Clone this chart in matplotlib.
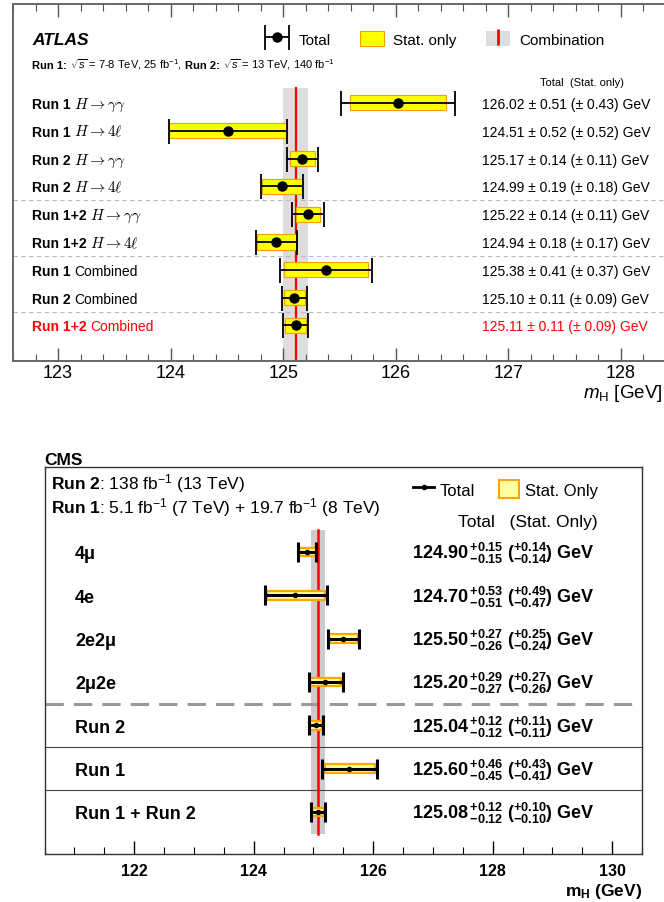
import numpy as np
import matplotlib
matplotlib.use('Agg')
import matplotlib.pyplot as plt
import matplotlib.transforms as mtransforms
from matplotlib.patches import Patch
from matplotlib.lines import Line2D
from matplotlib.legend_handler import HandlerTuple, HandlerErrorbar
from matplotlib.container import ErrorbarContainer
from matplotlib.ticker import MultipleLocator, FixedLocator

plt.rcParams['font.family'] = ['Liberation Sans', 'DejaVu Sans']
plt.rcParams['mathtext.fontset'] = 'custom'
plt.rcParams['mathtext.rm'] = 'Liberation Sans'
plt.rcParams['mathtext.it'] = 'Liberation Sans:italic'
plt.rcParams['mathtext.bf'] = 'Liberation Sans:bold'
plt.rcParams['mathtext.sf'] = 'Liberation Sans'

# ---------------- ATLAS data ----------------
atlas_runs = ['Run 1', 'Run 1', 'Run 2', 'Run 2', 'Run 1+2', 'Run 1+2',
              'Run 1', 'Run 2', 'Run 1+2']
atlas_channels = [r'$H \rightarrow \gamma\gamma$', r'$H \rightarrow 4\ell$',
                  r'$H \rightarrow \gamma\gamma$', r'$H \rightarrow 4\ell$',
                  r'$H \rightarrow \gamma\gamma$', r'$H \rightarrow 4\ell$',
                  'Combined', 'Combined', 'Combined']
atlas_mass = [126.02, 124.51, 125.17, 124.99, 125.22, 124.94, 125.38, 125.10, 125.11]
atlas_total = [0.51, 0.52, 0.14, 0.19, 0.14, 0.18, 0.41, 0.11, 0.11]
atlas_stat = [0.43, 0.52, 0.11, 0.18, 0.11, 0.17, 0.37, 0.09, 0.09]
atlas_comb_mass = 125.11
atlas_comb_err = 0.11
atlas_xticks = [123, 124, 125, 126, 127, 128]

# ---------------- CMS data ----------------
cms_labels = ['4\u03bc', '4e', '2e2\u03bc', '2\u03bc2e', 'Run 2', 'Run 1', 'Run 1 + Run 2']
cms_mass = [124.90, 124.70, 125.50, 125.20, 125.04, 125.60, 125.08]
cms_tot_up = [0.15, 0.53, 0.27, 0.29, 0.12, 0.46, 0.12]
cms_tot_dn = [0.15, 0.51, 0.26, 0.27, 0.12, 0.45, 0.12]
cms_stat_up = [0.14, 0.49, 0.25, 0.27, 0.11, 0.43, 0.10]
cms_stat_dn = [0.14, 0.47, 0.24, 0.26, 0.11, 0.41, 0.10]
cms_comb_mass = 125.08
cms_comb_err = 0.12
cms_xticks = [122, 124, 126, 128, 130]

W, H = 664, 903
fig = plt.figure(figsize=(W / 100, H / 100), dpi=100)

# ======================= ATLAS panel =======================
ax1 = fig.add_axes([13 / W, 1 - 362 / H, 653 / W, 357 / H])
ax1.set_xlim(122.6, 128.4)
ax1.set_ylim(9.28, -3.56)
y1 = np.arange(len(atlas_mass))
trans1 = mtransforms.blended_transform_factory(ax1.transAxes, ax1.transData)

band_top = -0.54
ax1.fill_betweenx([band_top, 9.28], atlas_comb_mass - atlas_comb_err,
                  atlas_comb_mass + atlas_comb_err, color='#dddddd', lw=0, zorder=1)
ax1.plot([atlas_comb_mass, atlas_comb_mass], [band_top, 9.28], color='red', lw=1.6, zorder=2)

for ysep in [3.5, 5.5, 7.5]:
    ax1.axhline(ysep, color='#bbbbbb', lw=0.8, ls=(0, (4, 3)), zorder=1)

ax1.barh(y1, width=2 * np.array(atlas_stat), left=np.array(atlas_mass) - np.array(atlas_stat),
         height=0.54, color='#ffff00', edgecolor='#f5a000', lw=0.8, zorder=3)
eb1 = ax1.errorbar(atlas_mass, y1, xerr=atlas_total, fmt='o', color='black', ms=6.5,
                   elinewidth=1.3, capsize=9, capthick=1.3, zorder=4, label='Total')

for i in range(len(atlas_mass)):
    col = 'red' if i == len(atlas_mass) - 1 else 'black'
    yb = y1[i] + 0.18
    t1 = ax1.text(0.029, yb, atlas_runs[i], transform=trans1, fontsize=10,
                  fontweight='bold', va='baseline', ha='left', color=col)
    if '$' in atlas_channels[i]:
        kw = dict(math_fontfamily='cm', fontsize=11)
    else:
        kw = dict(fontsize=10)
    ax1.annotate(atlas_channels[i], xy=(1, yb), xycoords=(t1, 'data'),
                 xytext=(2.8, 0), textcoords='offset points',
                 va='baseline', ha='left', color=col, **kw)
    ax1.text(0.718, yb, '%.2f \u00b1 %.2f (\u00b1 %.2f) GeV' %
             (atlas_mass[i], atlas_total[i], atlas_stat[i]),
             transform=trans1, fontsize=10, va='baseline', ha='left', color=col)

ax1.text(0.871, -0.755, 'Total  (Stat. only)', transform=trans1, fontsize=8,
         ha='center', va='center')
ax1.text(0.029, -2.30, 'ATLAS', transform=trans1, fontsize=12.5, fontweight='bold',
         fontstyle='italic', ha='left', va='center')

# subtitle, built as a chain of texts (bold / regular parts)
sub_fs = 8.0
sub_y = -1.27
sub_parts = [('Run 1:', 'bold'), (r'$\sqrt{s}$ = 7-8 TeV, 25 fb$^{-1}$,', 'normal'),
             ('Run 2:', 'bold'), (r'$\sqrt{s}$ = 13 TeV, 140 fb$^{-1}$', 'normal')]
prev = ax1.text(0.029, sub_y, sub_parts[0][0], transform=trans1, fontsize=sub_fs,
                fontweight=sub_parts[0][1], ha='left', va='baseline')
for txt, wt in sub_parts[1:]:
    prev = ax1.annotate(txt, xy=(1, sub_y), xycoords=(prev, 'data'),
                        xytext=(sub_fs * 0.28, 0), textcoords='offset points',
                        fontsize=sub_fs, fontweight=wt, ha='left', va='baseline')

h_stat = Patch(facecolor='#ffff00', edgecolor='#f5a000', lw=0.8)
h_comb = (Patch(facecolor='#dddddd', edgecolor='none'),
          Line2D([], [], color='red', marker='|', ls='none', markersize=12, mew=2))
ax1.legend([eb1, h_stat, h_comb], ['Total', 'Stat. only', 'Combination'],
           loc='center left', bbox_to_anchor=(0.386, 0.902), ncol=3, frameon=False,
           fontsize=11, borderpad=0, borderaxespad=0, handlelength=1.55,
           handleheight=1.11, handletextpad=0.65, columnspacing=1.9,
           handler_map={ErrorbarContainer: HandlerErrorbar(xerr_size=0.8),
                        tuple: HandlerTuple(ndivide=1, pad=0)})

ax1.xaxis.set_major_locator(FixedLocator(atlas_xticks))
ax1.xaxis.set_minor_locator(MultipleLocator(0.2))
ax1.set_yticks([])
ax1.tick_params(axis='x', which='both', direction='in', top=True, bottom=True,
                labelsize=13, pad=2.5, color='#555555')
ax1.tick_params(axis='x', which='major', length=9.4, width=1.0)
ax1.tick_params(axis='x', which='minor', length=5, width=0.8)
for s in ax1.spines.values():
    s.set_color('#666666')
    s.set_linewidth(1.4)
ax1.set_xlabel(r'$m_{\mathrm{H}}$ [GeV]', fontsize=13.5, ha='right', va='baseline')
ax1.xaxis.set_label_coords(0.995, -0.1)

# ======================= CMS panel =======================
ax2 = fig.add_axes([44.5 / W, 48 / H, 597.5 / W, 387 / H])
ax2.set_xlim(120.5, 130.5)
ax2.set_ylim(6.97, -1.96)
y2 = np.arange(len(cms_mass))
trans2 = mtransforms.blended_transform_factory(ax2.transAxes, ax2.transData)

ax2.fill_betweenx([-0.5, 6.5], cms_comb_mass - cms_comb_err, cms_comb_mass + cms_comb_err,
                  color='#cccccc', lw=0, zorder=1)
ax2.plot([cms_comb_mass, cms_comb_mass], [-0.5, 6.5], color='red', lw=1.8, zorder=2)

ax2.axhline(3.5, color='#999999', lw=2.2, ls=(0, (6, 3.3)), zorder=1)
for ysep in [4.5, 5.5]:
    ax2.axhline(ysep, color='#444444', lw=0.8, zorder=1)

sd = np.array(cms_stat_dn)
su = np.array(cms_stat_up)
ax2.barh(y2, width=su + sd, left=np.array(cms_mass) - sd, height=0.2,
         color='#ffffa0', edgecolor='#ffa500', lw=1.6, zorder=3, joinstyle='round')
ax2.errorbar(cms_mass, y2, xerr=[cms_tot_dn, cms_tot_up], fmt='o', color='black', ms=3,
             elinewidth=2.2, capsize=7, capthick=2.2, zorder=4)

for i in range(len(cms_mass)):
    yb = y2[i] + 0.15
    ax2.text(0.051, yb, cms_labels[i], transform=trans2, fontsize=13, fontweight='bold',
             ha='left', va='baseline')
    ax2.text(0.921, yb,
             r'$\mathbf{%.2f\,^{+%.2f}_{-%.2f}\ (^{+%.2f}_{-%.2f})\ GeV}$' %
             (cms_mass[i], cms_tot_up[i], cms_tot_dn[i], cms_stat_up[i], cms_stat_dn[i]),
             transform=trans2, fontsize=13, ha='right', va='baseline')

ax2.text(0.0, 1.0078, 'CMS', transform=ax2.transAxes, fontsize=12.5, fontweight='bold',
         ha='left', va='baseline')
ax2.text(0.011, -1.465, r'$\mathbf{Run\ 2}$: 138 fb$^{-1}$ (13 TeV)', transform=trans2,
         fontsize=12.5, ha='left', va='baseline')
ax2.text(0.011, -0.91, r'$\mathbf{Run\ 1}$: 5.1 fb$^{-1}$ (7 TeV) + 19.7 fb$^{-1}$ (8 TeV)',
         transform=trans2, fontsize=12.5, ha='left', va='baseline')
ax2.text(0.925, -0.61, 'Total   (Stat. Only)', transform=trans2, fontsize=12.5,
         ha='right', va='baseline')

h_tot2 = Line2D([], [], color='black', lw=2, marker='o', ms=3)
h_stat2 = Patch(facecolor='#ffffa0', edgecolor='#ffa500', lw=1.5)
ax2.legend([h_tot2, h_stat2], ['Total', 'Stat. Only'], loc='center left',
           bbox_to_anchor=(0.617, 0.943), ncol=2, frameon=False, fontsize=12,
           borderpad=0, borderaxespad=0, handlelength=1.25, handleheight=1.35,
           handletextpad=0.35, columnspacing=1.4)

ax2.xaxis.set_major_locator(FixedLocator(cms_xticks))
ax2.xaxis.set_minor_locator(MultipleLocator(0.5))
ax2.set_yticks([])
ax2.tick_params(axis='x', which='both', direction='in', top=False, bottom=True,
                labelsize=11.5, pad=6.5)
ax2.tick_params(axis='x', which='major', length=9.4, width=1.0)
ax2.tick_params(axis='x', which='minor', length=5, width=0.8)
for lab in ax2.get_xticklabels():
    lab.set_fontweight('bold')
for s in ax2.spines.values():
    s.set_color('#333333')
    s.set_linewidth(1.0)
ax2.set_xlabel(r'$\mathbf{m_{H}}$ (GeV)', fontsize=12.5, fontweight='bold',
               ha='right', va='baseline')
ax2.xaxis.set_label_coords(1.0, -0.105)

fig.savefig('out.png', dpi=100)
